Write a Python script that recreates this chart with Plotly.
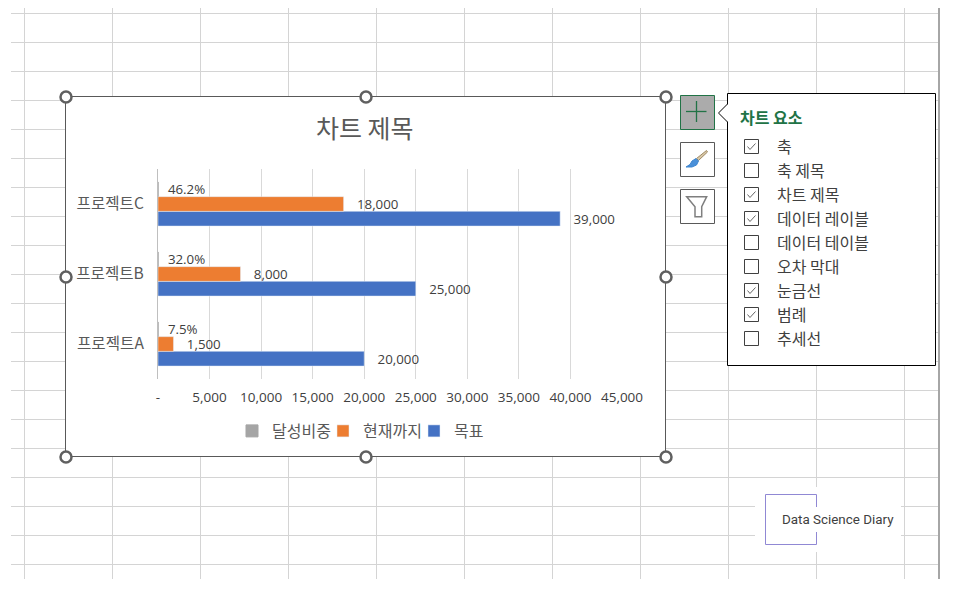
import plotly.graph_objects as go

W, H = 953, 592

# ---- data ----
categories = ["프로젝트A", "프로젝트B", "프로젝트C"]
target = [20000, 25000, 39000]
current = [1500, 8000, 18000]
ratio = [0.075, 0.32, 0.462]
tick_vals = [0, 5000, 10000, 15000, 20000, 25000, 30000, 35000, 40000, 45000]
tick_text = ["-", "5,000", "10,000", "15,000", "20,000", "25,000", "30,000", "35,000", "40,000", "45,000"]
menu_items = ["축", "축 제목", "차트 제목", "데이터 레이블", "데이터 테이블", "오차 막대", "눈금선", "범례", "추세선"]
menu_checked = [True, False, True, True, False, False, True, True, False]

KR = "Noto Sans CJK KR"
NUM = "'Open Sans', 'Noto Sans CJK KR'"
TXT = "#404040"


def X(p):
    return p / W


def Y(p):
    return 1 - p / H


def rect(x0, y0, x1, y1, fill="rgba(0,0,0,0)", line="rgba(0,0,0,0)", lw=1, layer="above"):
    return dict(type="rect", xref="paper", yref="paper", x0=X(x0), x1=X(x1), y0=Y(y0), y1=Y(y1),
                fillcolor=fill, line=dict(color=line, width=lw), layer=layer)


def seg(x0, y0, x1, y1, color, lw=1, layer="above"):
    return dict(type="line", xref="paper", yref="paper", x0=X(x0), x1=X(x1), y0=Y(y0), y1=Y(y1),
                line=dict(color=color, width=lw), layer=layer)


def poly(points, color, lw=1, fill="rgba(0,0,0,0)", close=True):
    d = "M " + " L ".join(f"{X(a):.5f},{Y(b):.5f}" for a, b in points) + (" Z" if close else "")
    return dict(type="path", xref="paper", yref="paper", path=d, fillcolor=fill,
                line=dict(color=color, width=lw), layer="above")


shapes = []
# spreadsheet background
for k in range(20):
    shapes.append(seg(11, 13.5 + 29 * k, 938, 13.5 + 29 * k, "#d4d4d4", 1, "below"))
for k in range(11):
    shapes.append(seg(24.5 + 88 * k, 8, 24.5 + 88 * k, 579, "#d4d4d4", 1, "below"))
shapes.append(seg(939, 8, 939, 579, "#a6a6a6", 2, "below"))
# watermark
shapes.append(rect(755, 487, 901, 552, fill="white", layer="below"))
for a in [(765.5, 494.5, 816.5, 494.5), (765.5, 494.5, 765.5, 544.5), (765.5, 544.5, 816.5, 544.5),
          (816.5, 494.5, 816.5, 507), (816.5, 532, 816.5, 544.5)]:
    shapes.append(seg(*a, "#9088d4", 1, "below"))
# chart area
shapes.append(rect(65.5, 96.5, 665.5, 456.5, fill="white", line="#595959", lw=1, layer="below"))
for cx, cy in [(66, 97), (366, 97), (666, 97), (66, 277), (666, 277), (66, 457), (366, 457), (666, 457)]:
    shapes.append(dict(type="circle", xref="paper", yref="paper", x0=X(cx - 5.5), x1=X(cx + 5.5), y0=Y(cy - 5.5), y1=Y(cy + 5.5),
                       fillcolor="white", line=dict(color="#606060", width=2.5), layer="above"))
# side buttons
shapes.append(rect(680.5, 95.5, 714.5, 129.5, fill="#ababab", line="#217346", lw=1))
shapes.append(seg(686, 111.5, 706.5, 111.5, "#217346", 1.3))
shapes.append(seg(696.5, 101, 696.5, 122, "#217346", 1.3))
shapes.append(rect(680.5, 142.5, 714.5, 176.5, fill="white", line="#595959", lw=1))
shapes.append(poly([(706.5, 150.5), (707.5, 152), (698.5, 160.5), (696.5, 158.5)], "#a08a64", 1, "#d8c8a8"))
shapes.append(poly([(696, 158.5), (698.5, 161), (696.5, 165), (692, 167), (686, 167), (690, 164.5), (692, 161)], "#3f86cf", 1, "#4a90d9"))
shapes.append(rect(680.5, 189.5, 714.5, 223.5, fill="white", line="#595959", lw=1))
shapes.append(poly([(686.7, 196.7), (706.7, 196.7), (701.7, 206.7), (701.7, 216.7), (695, 216.7), (695, 206.7)], "#7f7f7f", 1.5))
# popup panel
shapes.append(rect(727.5, 93.5, 935.5, 365.5, fill="white", line="black", lw=1))
shapes.append(poly([(728, 104), (718.5, 113), (728, 122)], "white", 0, "white"))
shapes.append(poly([(727.5, 104), (718.5, 113), (727.5, 122)], "black", 1, "rgba(0,0,0,0)", close=False))

annotations = [
    dict(text="차트 요소", x=X(738), y=Y(117.5), font=dict(family=KR, size=16, color="#217346", weight="bold"), xanchor="left"),
    dict(text="Data Science Diary", x=X(838), y=Y(519), font=dict(family="Roboto", size=13.4, color="#404040")),
    dict(text="차트 제목", x=X(364.5), y=Y(127.5), font=dict(family=KR, size=25, color="#595959")),
]
for i, (name, on) in enumerate(zip(menu_items, menu_checked)):
    cy = 146.5 + 24 * i
    shapes.append(rect(744.5, cy - 7, 758.5, cy + 7, fill="white", line="#404040", lw=1))
    if on:
        shapes.append(poly([(747.5, cy), (750, cy + 3), (755.5, cy - 3)], "#666666", 1, close=False))
    annotations.append(dict(text=name, x=X(775), y=Y(cy - 0.7), xanchor="left",
                            font=dict(family=KR, size=16, color="#404040")))
for a in annotations:
    a.update(xref="paper", yref="paper", showarrow=False, yanchor="middle", xanchor=a.get("xanchor", "center"))

gap = "\u00a0" * 3
fig = go.Figure()
fig.add_trace(go.Bar(name="목표", y=categories, x=target, orientation="h", marker_color="#4472C4",
                     text=[gap + f"{v:,}" for v in target]))
fig.add_trace(go.Bar(name="현재까지", y=categories, x=current, orientation="h", marker_color="#ED7D31",
                     text=[gap + f"{v:,}" for v in current]))
fig.add_trace(go.Bar(name="달성비중", y=categories, x=ratio, orientation="h",
                     marker=dict(color="#A5A5A5", line=dict(color="#A5A5A5", width=1)),
                     text=["\u00a0\u00a0" + f"{v * 100:.1f}%" for v in ratio]))
fig.update_traces(textposition="outside", cliponaxis=False, textangle=0, constraintext="none",
                  textfont=dict(family=NUM, size=13.3, color=TXT))

fig.update_layout(
    width=W, height=H, autosize=False,
    margin=dict(l=0, r=0, t=0, b=0, autoexpand=False),
    paper_bgcolor="white", plot_bgcolor="rgba(0,0,0,0)",
    barmode="group", bargap=0.37, bargroupgap=0,
    font=dict(family=KR, color="#595959"),
    shapes=shapes, annotations=annotations,
    showlegend=True,
    legend=dict(orientation="h", traceorder="reversed", x=X(232), xanchor="left", y=Y(431), yanchor="middle",
                entrywidth=46, entrywidthmode="pixels",
                bgcolor="rgba(0,0,0,0)", font=dict(family=KR, size=16, color="#595959"), itemclick=False),
    xaxis=dict(domain=[X(158), X(622)], range=[0, 45000], tickvals=tick_vals, ticktext=tick_text,
               showgrid=True, gridcolor="#d9d9d9", gridwidth=1, zeroline=False, showline=False,
               ticks="", ticklabelstandoff=8, tickfont=dict(family=NUM, size=13.5, color=TXT)),
    yaxis=dict(domain=[Y(379), Y(169)], type="category", categoryorder="array", categoryarray=categories,
               showgrid=False, zeroline=False, showline=True, linecolor="#bfbfbf", linewidth=1,
               ticks="", ticklabelstandoff=10, tickfont=dict(family=KR, size=15.6, color="#595959")),
)

fig.write_html("out.html", post_script="document.body.style.margin='0';", config=dict(displayModeBar=False))
